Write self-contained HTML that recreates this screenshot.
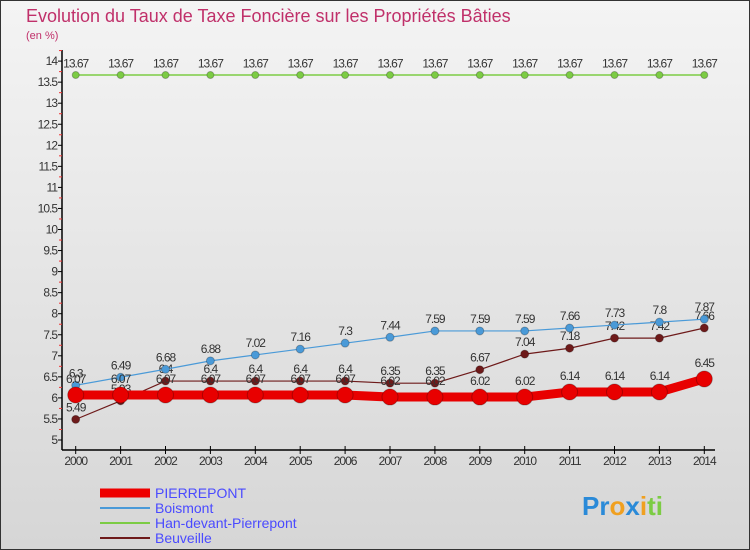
<!DOCTYPE html>
<html><head><meta charset="utf-8"><style>
body{margin:0;width:750px;height:550px;overflow:hidden;font-family:"Liberation Sans",sans-serif}
svg{display:block}
</style></head><body>
<svg id="c" width="750" height="550" xmlns="http://www.w3.org/2000/svg">
<defs><linearGradient id="bg" x1="0" y1="0" x2="0" y2="1"><stop offset="0" stop-color="#f4f4f4"/><stop offset="1" stop-color="#d6d6d6"/></linearGradient></defs>
<rect x="0.5" y="0.5" width="749" height="549" fill="url(#bg)" stroke="#333"/>
<text x="26" y="22" font-size="18" fill="#c0306a">Evolution du Taux de Taxe Foncière sur les Propriétés Bâties</text>
<text x="26" y="39" font-size="11" fill="#c0306a">(en %)</text>
<g id="axes"></g><g id="series"></g>
<g>
<line x1="100" y1="493" x2="150" y2="493" stroke="#e00" stroke-width="9"/>
<text x="155" y="498" font-size="14" fill="#4a4aff">PIERREPONT</text>
<line x1="100" y1="508" x2="150" y2="508" stroke="#4a9ad8" stroke-width="2"/>
<text x="155" y="513" font-size="14" fill="#4a4aff">Boismont</text>
<line x1="100" y1="523" x2="150" y2="523" stroke="#7ccc44" stroke-width="2"/>
<text x="155" y="528" font-size="14" fill="#4a4aff">Han-devant-Pierrepont</text>
<line x1="100" y1="538" x2="150" y2="538" stroke="#6e1a1a" stroke-width="2"/>
<text x="155" y="543" font-size="14" fill="#4a4aff">Beuveille</text>
</g>
<text x="582" y="515" font-size="26" font-weight="bold"><tspan fill="#2a8ad8">Pr</tspan><tspan fill="#f0a020">o</tspan><tspan fill="#2a8ad8">x</tspan><tspan fill="#f0a020">i</tspan><tspan fill="#7ccc44">ti</tspan></text>
</svg>
<script>
const years=[2000,2001,2002,2003,2004,2005,2006,2007,2008,2009,2010,2011,2012,2013,2014];
const pierrepont=[6.07,6.07,6.07,6.07,6.07,6.07,6.07,6.02,6.02,6.02,6.02,6.14,6.14,6.14,6.45];
const boismont=[6.3,6.49,6.68,6.88,7.02,7.16,7.3,7.44,7.59,7.59,7.59,7.66,7.73,7.8,7.87];
const han=[13.67,13.67,13.67,13.67,13.67,13.67,13.67,13.67,13.67,13.67,13.67,13.67,13.67,13.67,13.67];
const beuveille=[5.49,5.93,6.4,6.4,6.4,6.4,6.4,6.35,6.35,6.67,7.04,7.18,7.42,7.42,7.66];
const yTicks=[5,5.5,6,6.5,7,7.5,8,8.5,9,9.5,10,10.5,11,11.5,12,12.5,13,13.5,14];
const NS="http://www.w3.org/2000/svg";
const x=i=>75.7+i*44.9;
const y=v=>440-(v-5)*42.1;
function mk(tag,attrs,parent,txt){const e=document.createElementNS(NS,tag);for(const k in attrs)e.setAttribute(k,attrs[k]);if(txt!==undefined)e.textContent=txt;parent.appendChild(e);return e;}
const ax=document.getElementById('axes');
let l=mk('line',{x1:62,y1:50,x2:62,y2:450,stroke:'#000','stroke-width':1.5},ax);


l=mk('line',{x1:62,y1:450,x2:715,y2:450,stroke:'#000','stroke-width':1.5},ax);


yTicks.forEach(v=>{
 const t=mk('line',{x1:58,y1:y(v),x2:62,y2:y(v),stroke:'#000'},ax);
 
 
 const r=mk('line',{x1:59,y1:y(v+0.25),x2:62,y2:y(v+0.25),stroke:'#e33'},ax);
 
 
 const tx=mk('text',{x:57,y:y(v)+4,'font-size':12,'text-anchor':'end',fill:'#333','letter-spacing':'-1'},ax,String(v));
 
 
});
years.forEach((yr,i)=>{
 const t=mk('line',{x1:x(i),y1:446,x2:x(i),y2:454,stroke:'#000'},ax);
 
 
 const tx=mk('text',{x:x(i),y:465,'font-size':12,'text-anchor':'middle',fill:'#333','letter-spacing':'-1'},ax,String(yr));
 
 
});
const sg=document.getElementById('series');
function series(data,name,color,w,r,labelAbove){
 const g=mk('g',{},sg);
 
 
 const p=mk('polyline',{points:data.map((v,i)=>x(i)+','+y(v)).join(' '),fill:'none',stroke:color,'stroke-width':w},g);
 
 
 data.forEach((v,i)=>{
  const c=mk('circle',{cx:x(i),cy:y(v),r:r,fill:color,stroke:'rgba(0,0,0,0.25)'},g);
  
  
  const t=mk('text',{x:x(i),y:y(v)-(r+4),'font-size':12,'text-anchor':'middle',fill:'#333','letter-spacing':'-1'},g,String(v));
  
  
 });
}
series(han,'han','#7ccc44',1.5,3.5);
series(beuveille,'beuveille','#6e1a1a',1.2,4);
series(boismont,'boismont','#4a9ad8',1.2,4);
series(pierrepont,'pierrepont','#e80000',9,8);
</script>
</body></html>
